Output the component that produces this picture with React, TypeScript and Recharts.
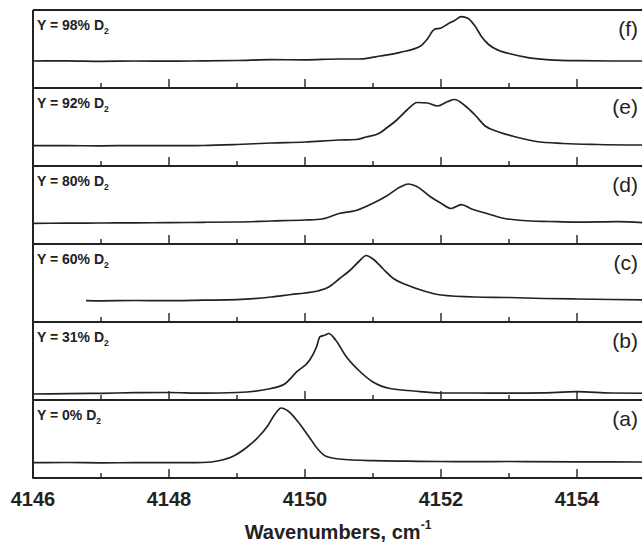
import React from 'react';
import { LineChart, Line, XAxis, YAxis } from 'recharts';

// x axis: wavenumbers (cm-1)
const TICKS = [4146, 4147, 4148, 4149, 4150, 4151, 4152, 4153, 4154, 4155];
const D2_PERCENT = ['98', '92', '80', '60', '31', '0'];
const LETTERS = ['(f)', '(e)', '(d)', '(c)', '(b)', '(a)'];

// (f) Y = 98% D2
const wnF = [4146, 4146.5, 4147, 4147.5, 4148, 4148.5, 4149, 4149.5, 4150, 4150.5, 4150.8, 4151.1, 4151.4, 4151.7, 4151.8, 4151.9, 4152, 4152.1, 4152.2, 4152.3, 4152.4, 4152.5, 4152.6, 4152.7, 4152.85, 4153, 4153.3, 4153.6, 4154, 4154.5, 4155];
const intF = [27, 27.2, 26.7, 27, 26.8, 27.2, 27.5, 28.3, 28.2, 29, 29, 32, 35.7, 42, 49, 58.5, 60, 64, 67.5, 71.3, 69.5, 62, 51, 43.5, 37.5, 34.5, 30.2, 28.2, 27.3, 27, 27];

// (e) Y = 92% D2
const wnE = [4146, 4146.5, 4147, 4147.5, 4148, 4148.5, 4149, 4149.5, 4150, 4150.5, 4150.75, 4150.9, 4151.1, 4151.2, 4151.35, 4151.5, 4151.65, 4151.8, 4151.95, 4152.1, 4152.2, 4152.35, 4152.5, 4152.65, 4152.85, 4153.1, 4153.4, 4153.8, 4154.3, 4155];
const intE = [20.3, 20.3, 20.2, 20.4, 20.3, 20.5, 21.5, 23, 24, 26, 26.5, 29, 33, 38, 46, 56, 63.5, 63, 60, 64.5, 66.5, 60.5, 51, 40, 34, 29, 24.5, 22.5, 21.5, 21];

// (d) Y = 80% D2
const wnD = [4146, 4146.5, 4147, 4147.5, 4148, 4148.5, 4149, 4149.5, 4150, 4150.25, 4150.5, 4150.75, 4151, 4151.2, 4151.4, 4151.52, 4151.65, 4151.85, 4152, 4152.15, 4152.3, 4152.45, 4152.65, 4152.9, 4153.2, 4153.6, 4154, 4154.6, 4155];
const intD = [20.7, 20.8, 21, 21.2, 21.3, 21.7, 22, 23, 24, 25, 30.5, 33.5, 40.7, 48, 57, 60, 57.3, 47, 40.7, 35.5, 39.3, 35, 31, 26, 23.5, 22.5, 21.8, 22.3, 21.3];

// (c) Y = 60% D2
const wnC = [4146.78, 4147, 4147.5, 4148, 4148.5, 4149, 4149.5, 4149.8, 4150, 4150.2, 4150.35, 4150.5, 4150.65, 4150.8, 4150.9, 4151, 4151.15, 4151.3, 4151.5, 4151.75, 4152, 4152.5, 4153, 4153.5, 4154, 4155];
const intC = [21.3, 21.2, 21.5, 21.3, 21.8, 22.3, 25, 27.5, 29, 31.3, 35, 43, 51, 61, 66.5, 63, 53, 43.5, 37, 31, 27, 25, 24.5, 23.5, 23, 22];

// (b) Y = 31% D2
const wnB = [4146, 4146.5, 4147, 4147.5, 4148, 4148.5, 4149, 4149.5, 4149.7, 4149.88, 4150.07, 4150.17, 4150.22, 4150.3, 4150.35, 4150.45, 4150.6, 4150.8, 4151, 4151.25, 4151.6, 4152, 4152.5, 4153, 4153.5, 4154, 4154.5, 4155];
const intB = [6, 6.3, 6.7, 7.3, 7.5, 6.8, 7.5, 11.5, 16, 28.3, 40, 53.3, 63.3, 65, 66.5, 60, 44, 29, 18, 11.5, 9, 7, 7, 6.8, 7.2, 8.3, 7, 6.7];

// (a) Y = 0% D2
const wnA = [4146, 4146.5, 4147, 4147.5, 4148, 4148.5, 4148.75, 4148.95, 4149.15, 4149.3, 4149.45, 4149.55, 4149.65, 4149.75, 4149.9, 4150.05, 4150.2, 4150.3, 4150.5, 4151, 4151.5, 4152, 4152.5, 4153, 4154, 4155];
const intA = [15.3, 15.5, 15.2, 15.3, 15.3, 15.5, 17.5, 22, 31, 40, 52, 63, 70, 67, 56, 42, 28, 22, 19, 17.3, 16.8, 16.5, 16.3, 16.5, 16.2, 16];

const SPECTRA = [
  { wn: wnF, val: intF },
  { wn: wnE, val: intE },
  { wn: wnD, val: intD },
  { wn: wnC, val: intC },
  { wn: wnB, val: intB },
  { wn: wnA, val: intA },
];

const INK = '#222222';
const FONT = '"Liberation Sans", Arial, sans-serif';
const CHART_W = 660;
const PANEL_TOP = 10;
const PANEL_H = 78;
const LEFT = 33;

const AxisTick = (props: any) => {
  const { x, y, payload, showLabel } = props;
  const major = payload.value % 2 === 0;
  return (
    <g>
      <line x1={x} x2={x} y1={y + 1} y2={y - (major ? 9 : 5)} stroke={INK} strokeWidth={1.4} />
      {showLabel && major && (
        <text x={x} y={y + 28} textAnchor="middle" fontSize={20} fontWeight="bold" fill={INK} fontFamily={FONT}>
          {payload.value}
        </text>
      )}
    </g>
  );
};

const Panel = ({ idx }: { idx: number }) => {
  const first = idx === 0;
  const last = idx === SPECTRA.length - 1;
  const s = SPECTRA[idx];
  const rows = s.wn.map((w, i) => ({ wn: w, v: s.val[i] }));
  const top = PANEL_TOP + idx * PANEL_H;
  const extraTop = first ? 3 : 0;
  const h = PANEL_H + extraTop + (last ? 70 : 4);
  return (
    <div style={{ position: 'absolute', left: 0, top: top - extraTop, width: CHART_W, height: h }}>
      <LineChart
        width={CHART_W}
        height={h}
        data={rows}
        margin={{ top: first ? 2 : 0, right: CHART_W - LEFT - 612, bottom: 0, left: LEFT - 1 }}
      >
        <XAxis
          dataKey="wn"
          type="number"
          domain={[4146, 4155]}
          ticks={TICKS}
          interval={0}
          allowDataOverflow
          height={last ? 70 : 4}
          tickSize={0}
          tickMargin={0}
          tickLine={false}
          tick={<AxisTick showLabel={last} />}
          axisLine={{ stroke: INK, strokeWidth: 2 }}
        />
        {first && (
          <XAxis
            xAxisId="top"
            orientation="top"
            dataKey="wn"
            type="number"
            domain={[4146, 4155]}
            height={1}
            tick={false}
            tickLine={false}
            axisLine={{ stroke: INK, strokeWidth: 2 }}
          />
        )}
        <YAxis
          type="number"
          domain={[0, PANEL_H]}
          allowDataOverflow
          width={1}
          tick={false}
          tickLine={false}
          axisLine={{ stroke: INK, strokeWidth: 2 }}
        />
        <Line type="monotone" dataKey="v" stroke={INK} strokeWidth={1.7} dot={false} isAnimationActive={false} />
      </LineChart>
    </div>
  );
};

export default function App() {
  return (
    <div style={{ position: 'fixed', left: 0, top: 0, width: 642, height: 542, overflow: 'hidden', background: '#fff' }}>
      {SPECTRA.map((_, i) => (
        <Panel key={i} idx={i} />
      ))}
      <svg width={642} height={542} style={{ position: 'absolute', left: 0, top: 0, pointerEvents: 'none' }}>
        {D2_PERCENT.map((p, i) => {
          const top = PANEL_TOP + i * PANEL_H;
          return (
            <g key={p} fontFamily={FONT} fill={INK}>
              <text x={37} y={top + 20} fontSize={14} fontWeight="bold">
                {`Y = ${p}% D`}
                <tspan fontSize={8.5} dy={4}>2</tspan>
              </text>
              <text x={638} y={top + 26} fontSize={21} textAnchor="end">
                {LETTERS[i]}
              </text>
            </g>
          );
        })}
        <text x={338} y={539} textAnchor="middle" fontSize={20} fontWeight="bold" fill={INK} fontFamily={FONT}>
          Wavenumbers, cm
          <tspan fontSize={12} dy={-10}>-1</tspan>
        </text>
      </svg>
    </div>
  );
}
